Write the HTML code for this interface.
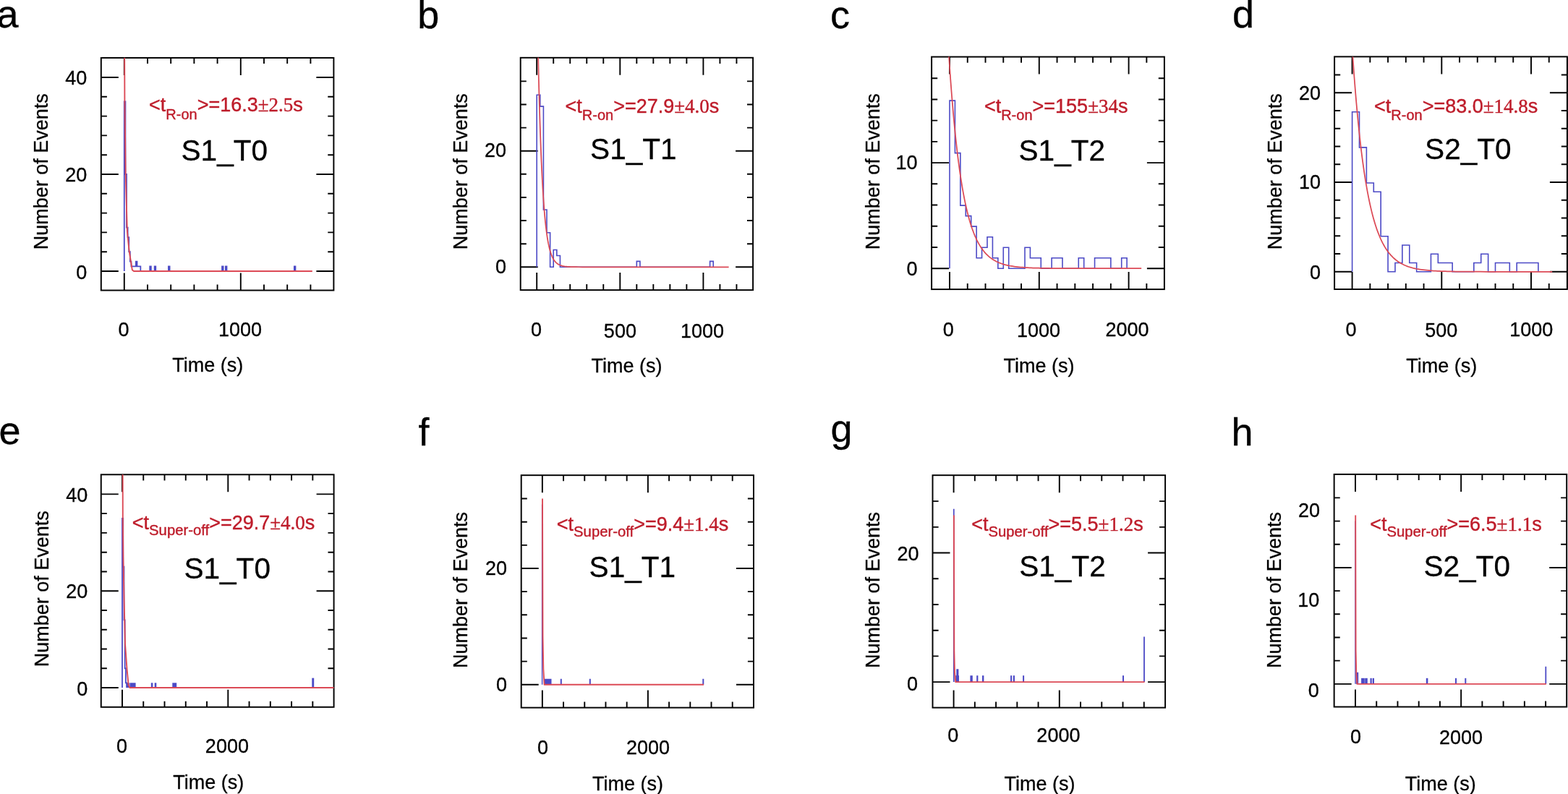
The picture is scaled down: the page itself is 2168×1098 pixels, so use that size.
<!DOCTYPE html>
<html lang="en"><head><meta charset="utf-8"><title>Dwell time histograms</title>
<style>html,body{margin:0;padding:0;background:#fff}body{width:2168px;height:1098px;overflow:hidden}svg{display:block}</style>
</head><body>
<svg width="2168" height="1098" viewBox="0 0 2168 1098" role="img" aria-label="Dwell time histograms with exponential fits, panels a to h">
<rect width="2168" height="1098" fill="#fff"/>
<g id="panel-a">
<clipPath id="clip-a"><rect x="139.8" y="80" width="321.6" height="321.5"/></clipPath>
<g stroke="#000" stroke-width="1.95" fill="none">
<rect x="139.8" y="80" width="321.6" height="321.5"/>
<path d="M171.8 401.5v-24M171.8 80v24M204 401.5v-8.1M204 80v8.1M236.2 401.5v-8.1M236.2 80v8.1M268.4 401.5v-8.1M268.4 80v8.1M300.6 401.5v-8.1M300.6 80v8.1M332.8 401.5v-24M332.8 80v24M365 401.5v-8.1M365 80v8.1M397.2 401.5v-8.1M397.2 80v8.1M429.4 401.5v-8.1M429.4 80v8.1M139.8 375h24M461.4 375h-24M139.8 348.2h8.1M461.4 348.2h-8.1M139.8 321.4h8.1M461.4 321.4h-8.1M139.8 294.6h8.1M461.4 294.6h-8.1M139.8 267.8h8.1M461.4 267.8h-8.1M139.8 241h24M461.4 241h-24M139.8 214.2h8.1M461.4 214.2h-8.1M139.8 187.4h8.1M461.4 187.4h-8.1M139.8 160.6h8.1M461.4 160.6h-8.1M139.8 133.8h8.1M461.4 133.8h-8.1M139.8 107h24M461.4 107h-24" stroke-width="1.9"/>
</g>
<g clip-path="url(#clip-a)" fill="none" stroke-linejoin="miter">
<path d="M171.8 375V140.5H173.41V241H175.02V314.7H176.63V328.1H178.24V348.2H179.85V361.6H181.46V368.3H187.9V361.6H189.51V368.3H194.34V375H207.22V368.3H208.83V375H213.66V368.3H215.27V375H232.98V368.3H234.59V375H307.04V368.3H308.65V375H311.87V368.3H313.48V375H406.86V368.3H408.47V375" stroke="#4c4ac6" stroke-width="1.8"/>
<path d="M172.2 78L172.4 140L173.1 190L173.7 241L175.6 310L175.9 320L178.6 347L181 362L182.8 373.2L185 375L431.8 375" stroke="#dc4a56" stroke-width="1.9" stroke-linejoin="round"/>
</g>
<g font-family="'Liberation Sans', sans-serif" font-size="27" fill="#000" stroke="#000" stroke-width="0.3">
<text x="171" y="464.6" text-anchor="middle">0</text>
<text x="332" y="464.6" text-anchor="middle">1000</text>
<text x="120.3" y="117.2" text-anchor="end">40</text>
<text x="120.3" y="251" text-anchor="end">20</text>
<text x="120.3" y="385.6" text-anchor="end">0</text>
<text x="287.3" y="513.8" text-anchor="middle">Time (s)</text>
<text transform="translate(66 237.3) rotate(-90)" text-anchor="middle">Number of Events</text>
</g>
<text x="-4.6" y="38.1" font-family="'Liberation Sans', sans-serif" font-size="54" fill="#000" stroke="#000" stroke-width="0.3">a</text>
<text x="250.5" y="221.9" font-family="'Liberation Sans', sans-serif" font-size="40.6" fill="#000" stroke="#000" stroke-width="0.3">S1_T0</text>
<text x="206" y="154.3" font-family="'Liberation Sans', sans-serif" font-size="27" fill="#be1c2a" stroke="#be1c2a" stroke-width="0.4">&lt;t<tspan font-size="20" dy="10.6">R-on</tspan><tspan dy="-10.6">&gt;=16.3</tspan><tspan font-family="'Liberation Serif', serif">±2.5</tspan>s</text>
</g>
<g id="panel-b">
<clipPath id="clip-b"><rect x="719.7" y="79.8" width="321.4" height="321.3"/></clipPath>
<g stroke="#000" stroke-width="1.95" fill="none">
<rect x="719.7" y="79.8" width="321.4" height="321.3"/>
<path d="M742.2 401.1v-24M742.2 79.8v24M765.22 401.1v-8.1M765.22 79.8v8.1M788.24 401.1v-8.1M788.24 79.8v8.1M811.26 401.1v-8.1M811.26 79.8v8.1M834.28 401.1v-8.1M834.28 79.8v8.1M857.3 401.1v-24M857.3 79.8v24M880.32 401.1v-8.1M880.32 79.8v8.1M903.34 401.1v-8.1M903.34 79.8v8.1M926.36 401.1v-8.1M926.36 79.8v8.1M949.38 401.1v-8.1M949.38 79.8v8.1M972.4 401.1v-24M972.4 79.8v24M995.42 401.1v-8.1M995.42 79.8v8.1M1018.44 401.1v-8.1M1018.44 79.8v8.1M719.7 369.3h24M1041.1 369.3h-24M719.7 337.18h8.1M1041.1 337.18h-8.1M719.7 305.06h8.1M1041.1 305.06h-8.1M719.7 272.94h8.1M1041.1 272.94h-8.1M719.7 240.82h8.1M1041.1 240.82h-8.1M719.7 208.7h24M1041.1 208.7h-24M719.7 176.58h8.1M1041.1 176.58h-8.1M719.7 144.46h8.1M1041.1 144.46h-8.1M719.7 112.34h8.1M1041.1 112.34h-8.1" stroke-width="1.9"/>
</g>
<g clip-path="url(#clip-b)" fill="none" stroke-linejoin="miter">
<path d="M742.2 369.3V131.29H746.8V147.16H751.41V289.96H756.01V321.7H760.62V369.3H765.22V345.5H769.82V353.43H774.43V369.3H880.32V361.37H884.92V369.3H981.61V361.37H986.21V369.3" stroke="#4c4ac6" stroke-width="1.6"/>
<path d="M742.2 -24.17L742.2 -24.12L742.2 -23.89L742.21 -23.39L742.23 -22.57L742.25 -21.37L742.27 -19.77L742.31 -17.71L742.35 -15.18L742.4 -12.15L742.46 -8.61L742.53 -4.53L742.61 0.1L742.7 5.27L742.8 10.99L742.91 17.24L743.04 24.03L743.18 31.34L743.33 39.14L743.49 47.42L743.67 56.14L743.86 65.28L744.06 74.8L744.28 84.66L744.51 94.82L744.76 105.24L745.03 115.87L745.3 126.66L745.6 137.57L745.91 148.55L746.24 159.56L746.59 170.53L746.95 181.43L747.33 192.22L747.72 202.84L748.14 213.26L748.57 223.44L749.03 233.35L749.5 242.96L749.99 252.23L750.49 261.15L751.02 269.68L751.57 277.83L752.14 285.57L752.73 292.89L753.33 299.8L753.96 306.28L754.61 312.34L755.28 317.99L755.98 323.23L756.69 328.08L757.43 332.54L758.18 336.63L758.96 340.36L759.76 343.76L760.59 346.84L761.44 349.61L762.31 352.11L763.2 354.34L764.12 356.33L765.06 358.1L766.02 359.66L767.01 361.03L768.02 362.24L769.06 363.29L770.12 364.21L771.21 365L772.32 365.68L773.45 366.27L774.62 366.77L775.8 367.2L777.02 367.56L778.26 367.86L779.52 368.12L780.81 368.34L782.13 368.51L783.47 368.66L784.84 368.79L786.24 368.89L787.67 368.97L789.12 369.04L790.6 369.09L792.11 369.13L793.64 369.17L795.21 369.2L796.8 369.22L800.07 369.25L805.19 369.28L822.13 369.3L863.57 369.3L906.29 369.3L949.72 369.3L991.34 369.3L1007.62 369.3" stroke="#dc4a56" stroke-width="1.75" stroke-linejoin="round"/>
</g>
<g font-family="'Liberation Sans', sans-serif" font-size="27" fill="#000" stroke="#000" stroke-width="0.3">
<text x="741.5" y="465" text-anchor="middle">0</text>
<text x="857.4" y="467" text-anchor="middle">500</text>
<text x="971.1" y="467" text-anchor="middle">1000</text>
<text x="700" y="217.4" text-anchor="end">20</text>
<text x="700" y="378.4" text-anchor="end">0</text>
<text x="866.6" y="514.7" text-anchor="middle">Time (s)</text>
<text transform="translate(646 237.3) rotate(-90)" text-anchor="middle">Number of Events</text>
</g>
<text x="577.2" y="38.5" font-family="'Liberation Sans', sans-serif" font-size="54" fill="#000" stroke="#000" stroke-width="0.3">b</text>
<text x="816.1" y="220.2" font-family="'Liberation Sans', sans-serif" font-size="40.6" fill="#000" stroke="#000" stroke-width="0.3">S1_T1</text>
<text x="781.5" y="156" font-family="'Liberation Sans', sans-serif" font-size="27" fill="#be1c2a" stroke="#be1c2a" stroke-width="0.4">&lt;t<tspan font-size="20" dy="10">R-on</tspan><tspan dy="-10">&gt;=27.9</tspan><tspan font-family="'Liberation Serif', serif">±4.0</tspan>s</text>
</g>
<g id="panel-c">
<clipPath id="clip-c"><rect x="1288.1" y="78.6" width="321.8" height="321.5"/></clipPath>
<g stroke="#000" stroke-width="1.95" fill="none">
<rect x="1288.1" y="78.6" width="321.8" height="321.5"/>
<path d="M1313 400.1v-24M1313 78.6v24M1337.76 400.1v-8.1M1337.76 78.6v8.1M1362.52 400.1v-8.1M1362.52 78.6v8.1M1387.28 400.1v-8.1M1387.28 78.6v8.1M1412.04 400.1v-8.1M1412.04 78.6v8.1M1436.8 400.1v-24M1436.8 78.6v24M1461.56 400.1v-8.1M1461.56 78.6v8.1M1486.32 400.1v-8.1M1486.32 78.6v8.1M1511.08 400.1v-8.1M1511.08 78.6v8.1M1535.84 400.1v-8.1M1535.84 78.6v8.1M1560.6 400.1v-24M1560.6 78.6v24M1585.36 400.1v-8.1M1585.36 78.6v8.1M1288.1 371.2h24M1609.9 371.2h-24M1288.1 341.98h8.1M1609.9 341.98h-8.1M1288.1 312.76h8.1M1609.9 312.76h-8.1M1288.1 283.54h8.1M1609.9 283.54h-8.1M1288.1 254.32h8.1M1609.9 254.32h-8.1M1288.1 225.1h24M1609.9 225.1h-24M1288.1 195.88h8.1M1609.9 195.88h-8.1M1288.1 166.66h8.1M1609.9 166.66h-8.1M1288.1 137.44h8.1M1609.9 137.44h-8.1M1288.1 108.22h8.1M1609.9 108.22h-8.1" stroke-width="1.9"/>
</g>
<g clip-path="url(#clip-c)" fill="none" stroke-linejoin="miter">
<path d="M1313 371.2V139.08H1320.43V211.61H1327.86V284.15H1335.28V298.66H1342.71V313.17H1350.14V356.69H1357.57V342.18H1365V327.68H1372.42V356.69H1379.85V371.2H1387.28V342.18H1394.71V371.2H1416.99V342.18H1424.42V356.69H1439.28V371.2H1454.13V356.69H1468.99V371.2H1491.27V356.69H1498.7V371.2H1513.56V356.69H1535.84V371.2H1550.7V356.69H1558.12V371.2" stroke="#4c4ac6" stroke-width="1.6"/>
<path d="M1311.51 69.69L1311.52 69.76L1311.53 69.89L1311.54 70.1L1311.56 70.41L1311.59 70.83L1311.62 71.36L1311.66 72.02L1311.71 72.81L1311.77 73.75L1311.84 74.84L1311.93 76.07L1312.02 77.47L1312.12 79.03L1312.23 80.75L1312.36 82.65L1312.5 84.72L1312.65 86.96L1312.81 89.38L1312.99 91.97L1313.18 94.73L1313.38 97.68L1313.6 100.79L1313.84 104.08L1314.09 107.53L1314.35 111.15L1314.63 114.93L1314.93 118.86L1315.24 122.95L1315.57 127.18L1315.92 131.55L1316.28 136.05L1316.67 140.68L1317.07 145.43L1317.48 150.28L1317.92 155.24L1318.37 160.29L1318.84 165.42L1319.34 170.63L1319.85 175.9L1320.38 181.23L1320.93 186.6L1321.5 192L1322.09 197.44L1322.7 202.88L1323.33 208.34L1323.99 213.78L1324.66 219.22L1325.36 224.63L1326.07 230L1326.81 235.33L1327.57 240.62L1328.35 245.84L1329.16 250.99L1329.99 256.07L1330.84 261.07L1331.71 265.97L1332.61 270.78L1333.53 275.49L1334.48 280.09L1335.45 284.57L1336.44 288.94L1337.46 293.19L1338.5 297.31L1339.57 301.31L1340.66 305.17L1341.77 308.9L1342.92 312.5L1344.08 315.96L1345.28 319.29L1346.49 322.49L1347.74 325.55L1349.01 328.47L1350.31 331.27L1351.63 333.93L1352.98 336.46L1354.36 338.87L1355.76 341.15L1357.2 343.31L1358.65 345.35L1360.14 347.28L1361.66 349.1L1363.2 350.8L1364.77 352.41L1366.37 353.91L1368 355.32L1369.65 356.63L1371.34 357.85L1373.05 358.99L1374.8 360.05L1376.57 361.04L1378.37 361.95L1380.2 362.79L1382.06 363.57L1383.95 364.28L1385.88 364.94L1387.83 365.55L1389.81 366.1L1391.82 366.61L1393.86 367.07L1395.94 367.5L1398.04 367.88L1400.18 368.23L1402.35 368.55L1404.55 368.84L1406.78 369.1L1409.04 369.33L1411.34 369.54L1413.66 369.73L1416.02 369.9L1418.41 370.05L1420.84 370.19L1423.29 370.31L1425.78 370.42L1428.31 370.51L1430.86 370.6L1433.45 370.68L1436.07 370.74L1438.73 370.8L1441.42 370.85L1444.14 370.9L1446.9 370.94L1449.69 370.98L1452.51 371.01L1455.37 371.03L1458.27 371.06L1461.2 371.08L1467.16 371.11L1473.26 371.13L1482.68 371.16L1499.1 371.18L1542.25 371.2L1578.18 371.2" stroke="#dc4a56" stroke-width="1.75" stroke-linejoin="round"/>
</g>
<g font-family="'Liberation Sans', sans-serif" font-size="27" fill="#000" stroke="#000" stroke-width="0.3">
<text x="1311.3" y="465" text-anchor="middle">0</text>
<text x="1436" y="466" text-anchor="middle">1000</text>
<text x="1558.5" y="465" text-anchor="middle">2000</text>
<text x="1268.6" y="234.3" text-anchor="end">10</text>
<text x="1268.6" y="381.4" text-anchor="end">0</text>
<text x="1436.5" y="514.7" text-anchor="middle">Time (s)</text>
<text transform="translate(1215.8 237.3) rotate(-90)" text-anchor="middle">Number of Events</text>
</g>
<text x="1148" y="38.5" font-family="'Liberation Sans', sans-serif" font-size="54" fill="#000" stroke="#000" stroke-width="0.3">c</text>
<text x="1408.5" y="222.3" font-family="'Liberation Sans', sans-serif" font-size="40.6" fill="#000" stroke="#000" stroke-width="0.3">S1_T2</text>
<text x="1360.9" y="156" font-family="'Liberation Sans', sans-serif" font-size="27" fill="#be1c2a" stroke="#be1c2a" stroke-width="0.4">&lt;t<tspan font-size="20" dy="10">R-on</tspan><tspan dy="-10">&gt;=155</tspan><tspan font-family="'Liberation Serif', serif">±34</tspan>s</text>
</g>
<g id="panel-d">
<clipPath id="clip-d"><rect x="1845.1" y="78.4" width="321.8" height="321.6"/></clipPath>
<g stroke="#000" stroke-width="1.95" fill="none">
<rect x="1845.1" y="78.4" width="321.8" height="321.6"/>
<path d="M1869.6 400v-24M1869.6 78.4v24M1894.34 400v-8.1M1894.34 78.4v8.1M1919.08 400v-8.1M1919.08 78.4v8.1M1943.82 400v-8.1M1943.82 78.4v8.1M1968.56 400v-8.1M1968.56 78.4v8.1M1993.3 400v-24M1993.3 78.4v24M2018.04 400v-8.1M2018.04 78.4v8.1M2042.78 400v-8.1M2042.78 78.4v8.1M2067.52 400v-8.1M2067.52 78.4v8.1M2092.26 400v-8.1M2092.26 78.4v8.1M2117 400v-24M2117 78.4v24M2141.74 400v-8.1M2141.74 78.4v8.1M1845.1 375.8h24M2166.9 375.8h-24M1845.1 351.05h8.1M2166.9 351.05h-8.1M1845.1 326.29h8.1M2166.9 326.29h-8.1M1845.1 301.54h8.1M2166.9 301.54h-8.1M1845.1 276.78h8.1M2166.9 276.78h-8.1M1845.1 252.03h24M2166.9 252.03h-24M1845.1 227.28h8.1M2166.9 227.28h-8.1M1845.1 202.52h8.1M2166.9 202.52h-8.1M1845.1 177.77h8.1M2166.9 177.77h-8.1M1845.1 153.01h8.1M2166.9 153.01h-8.1M1845.1 128.26h24M2166.9 128.26h-24M1845.1 103.51h8.1M2166.9 103.51h-8.1" stroke-width="1.9"/>
</g>
<g clip-path="url(#clip-d)" fill="none" stroke-linejoin="miter">
<path d="M1869.6 375.8V154.8H1879.5V203.91H1889.39V253.02H1899.29V265.3H1909.18V326.69H1919.08V375.8H1928.98V363.52H1938.87V338.97H1948.77V363.52H1958.66V375.8H1978.46V351.24H1988.35V363.52H2008.14V375.8H2037.83V363.52H2047.73V351.24H2057.62V375.8H2067.52V363.52H2087.31V375.8H2097.21V363.52H2126.9V375.8" stroke="#4c4ac6" stroke-width="1.6"/>
<path d="M1868.61 51.1L1868.62 51.17L1868.62 51.31L1868.64 51.53L1868.66 51.85L1868.69 52.29L1868.72 52.85L1868.77 53.54L1868.82 54.38L1868.88 55.36L1868.95 56.49L1869.04 57.79L1869.13 59.25L1869.24 60.89L1869.36 62.7L1869.49 64.69L1869.63 66.85L1869.79 69.21L1869.96 71.74L1870.14 74.46L1870.34 77.37L1870.56 80.46L1870.79 83.73L1871.03 87.18L1871.29 90.81L1871.57 94.62L1871.86 98.59L1872.17 102.73L1872.49 107.03L1872.84 111.49L1873.2 116.1L1873.58 120.84L1873.97 125.73L1874.39 130.74L1874.82 135.87L1875.28 141.1L1875.75 146.44L1876.24 151.88L1876.75 157.39L1877.28 162.98L1877.84 168.62L1878.41 174.32L1879 180.07L1879.62 185.84L1880.25 191.64L1880.91 197.44L1881.59 203.25L1882.29 209.04L1883.02 214.82L1883.76 220.57L1884.53 226.27L1885.33 231.93L1886.14 237.53L1886.98 243.06L1887.84 248.52L1888.73 253.9L1889.64 259.18L1890.57 264.37L1891.53 269.45L1892.51 274.43L1893.52 279.29L1894.56 284.02L1895.62 288.64L1896.7 293.12L1897.81 297.47L1898.95 301.69L1900.11 305.77L1901.3 309.7L1902.51 313.5L1903.75 317.16L1905.02 320.67L1906.32 324.04L1907.64 327.27L1908.99 330.36L1910.37 333.31L1911.77 336.12L1913.21 338.8L1914.67 341.34L1916.16 343.75L1917.68 346.04L1919.23 348.2L1920.81 350.24L1922.41 352.16L1924.05 353.97L1925.71 355.67L1927.41 357.27L1929.13 358.76L1930.88 360.15L1932.67 361.46L1934.48 362.67L1936.33 363.8L1938.2 364.84L1940.11 365.82L1942.05 366.72L1944.02 367.55L1946.02 368.31L1948.05 369.02L1950.11 369.67L1952.21 370.26L1954.33 370.81L1956.49 371.3L1958.68 371.76L1960.91 372.17L1963.16 372.55L1965.45 372.89L1967.78 373.2L1970.13 373.49L1972.52 373.74L1974.94 373.97L1977.4 374.18L1979.89 374.36L1982.41 374.53L1984.97 374.68L1987.56 374.81L1990.18 374.93L1992.84 375.03L1995.54 375.13L1998.27 375.21L2001.03 375.29L2003.83 375.35L2006.67 375.41L2009.54 375.46L2012.44 375.51L2015.38 375.54L2018.36 375.58L2021.37 375.61L2024.42 375.64L2027.51 375.66L2033.79 375.7L2040.21 375.72L2046.79 375.74L2056.93 375.77L2078.23 375.79L2120.9 375.8L2146.19 375.8" stroke="#dc4a56" stroke-width="1.75" stroke-linejoin="round"/>
</g>
<g font-family="'Liberation Sans', sans-serif" font-size="27" fill="#000" stroke="#000" stroke-width="0.3">
<text x="1868.1" y="465" text-anchor="middle">0</text>
<text x="1992.8" y="466" text-anchor="middle">500</text>
<text x="2117.3" y="465" text-anchor="middle">1000</text>
<text x="1826" y="137.5" text-anchor="end">20</text>
<text x="1826" y="261.2" text-anchor="end">10</text>
<text x="1826" y="386.3" text-anchor="end">0</text>
<text x="1993.2" y="514.7" text-anchor="middle">Time (s)</text>
<text transform="translate(1771.8 237.3) rotate(-90)" text-anchor="middle">Number of Events</text>
</g>
<text x="1703.9" y="38.2" font-family="'Liberation Sans', sans-serif" font-size="54" fill="#000" stroke="#000" stroke-width="0.3">d</text>
<text x="1970.1" y="220.2" font-family="'Liberation Sans', sans-serif" font-size="40.6" fill="#000" stroke="#000" stroke-width="0.3">S2_T0</text>
<text x="1900" y="156" font-family="'Liberation Sans', sans-serif" font-size="27" fill="#be1c2a" stroke="#be1c2a" stroke-width="0.4">&lt;t<tspan font-size="20" dy="10">R-on</tspan><tspan dy="-10">&gt;=83.0</tspan><tspan font-family="'Liberation Serif', serif">±14.8</tspan>s</text>
</g>
<g id="panel-e">
<clipPath id="clip-e"><rect x="139.75" y="656.3" width="321.85" height="321.5"/></clipPath>
<g stroke="#000" stroke-width="1.95" fill="none">
<rect x="139.75" y="656.3" width="321.85" height="321.5"/>
<path d="M169 977.8v-24M169 656.3v24M198.26 977.8v-8.1M198.26 656.3v8.1M227.52 977.8v-8.1M227.52 656.3v8.1M256.78 977.8v-8.1M256.78 656.3v8.1M286.04 977.8v-8.1M286.04 656.3v8.1M315.3 977.8v-24M315.3 656.3v24M344.56 977.8v-8.1M344.56 656.3v8.1M373.82 977.8v-8.1M373.82 656.3v8.1M403.08 977.8v-8.1M403.08 656.3v8.1M432.34 977.8v-8.1M432.34 656.3v8.1M139.75 951h24M461.6 951h-24M139.75 924.24h8.1M461.6 924.24h-8.1M139.75 897.48h8.1M461.6 897.48h-8.1M139.75 870.72h8.1M461.6 870.72h-8.1M139.75 843.96h8.1M461.6 843.96h-8.1M139.75 817.2h24M461.6 817.2h-24M139.75 790.44h8.1M461.6 790.44h-8.1M139.75 763.68h8.1M461.6 763.68h-8.1M139.75 736.92h8.1M461.6 736.92h-8.1M139.75 710.16h8.1M461.6 710.16h-8.1M139.75 683.4h24M461.6 683.4h-24" stroke-width="1.9"/>
</g>
<g clip-path="url(#clip-e)" fill="none" stroke-linejoin="miter">
<path d="M169 951V716.85H170.22V783.75H171.44V857.34H172.66V924.24H173.89V944.31H175.11V951" stroke="#4c4ac6" stroke-width="1.8"/>
<rect x="175.6" y="944.31" width="3.2" height="6.69" fill="#4c4ac6"/>
<rect x="179.4" y="944.31" width="8.2" height="6.69" fill="#4c4ac6"/>
<rect x="208.8" y="944.31" width="2.6" height="6.69" fill="#4c4ac6"/>
<rect x="213.7" y="944.31" width="2.6" height="6.69" fill="#4c4ac6"/>
<rect x="238.3" y="944.31" width="5.9" height="6.69" fill="#4c4ac6"/>
<rect x="431.3" y="937.62" width="2.9" height="13.38" fill="#4c4ac6"/>
<path d="M169.7 655L169.8 715L170.4 770L171.6 830L173 890L175.5 925L177.6 947L179.5 951L463 951" stroke="#dc4a56" stroke-width="1.9" stroke-linejoin="round"/>
</g>
<g font-family="'Liberation Sans', sans-serif" font-size="27" fill="#000" stroke="#000" stroke-width="0.3">
<text x="168.5" y="1041" text-anchor="middle">0</text>
<text x="313.9" y="1041.3" text-anchor="middle">2000</text>
<text x="121.3" y="693.8" text-anchor="end">40</text>
<text x="121.3" y="827.3" text-anchor="end">20</text>
<text x="121.3" y="961.9" text-anchor="end">0</text>
<text x="288.2" y="1090.5" text-anchor="middle">Time (s)</text>
<text transform="translate(67.2 814.2) rotate(-90)" text-anchor="middle">Number of Events</text>
</g>
<text x="-1.5" y="614" font-family="'Liberation Sans', sans-serif" font-size="54" fill="#000" stroke="#000" stroke-width="0.3">e</text>
<text x="254.4" y="800" font-family="'Liberation Sans', sans-serif" font-size="40.6" fill="#000" stroke="#000" stroke-width="0.3">S1_T0</text>
<text x="182.8" y="731.8" font-family="'Liberation Sans', sans-serif" font-size="27" fill="#be1c2a" stroke="#be1c2a" stroke-width="0.4">&lt;t<tspan font-size="20.3" dy="8.5">Super-off</tspan><tspan dy="-8.5">&gt;=29.7</tspan><tspan font-family="'Liberation Serif', serif">±4.0</tspan>s</text>
</g>
<g id="panel-f">
<clipPath id="clip-f"><rect x="720.7" y="657.2" width="321.3" height="321.4"/></clipPath>
<g stroke="#000" stroke-width="1.95" fill="none">
<rect x="720.7" y="657.2" width="321.3" height="321.4"/>
<path d="M749.85 978.6v-24M749.85 657.2v24M779.06 978.6v-8.1M779.06 657.2v8.1M808.27 978.6v-8.1M808.27 657.2v8.1M837.47 978.6v-8.1M837.47 657.2v8.1M866.68 978.6v-8.1M866.68 657.2v8.1M895.89 978.6v-24M895.89 657.2v24M925.1 978.6v-8.1M925.1 657.2v8.1M954.31 978.6v-8.1M954.31 657.2v8.1M983.51 978.6v-8.1M983.51 657.2v8.1M1012.72 978.6v-8.1M1012.72 657.2v8.1M720.7 946.8h24M1042 946.8h-24M720.7 914.64h8.1M1042 914.64h-8.1M720.7 882.48h8.1M1042 882.48h-8.1M720.7 850.32h8.1M1042 850.32h-8.1M720.7 818.16h8.1M1042 818.16h-8.1M720.7 786h24M1042 786h-24M720.7 753.84h8.1M1042 753.84h-8.1M720.7 721.68h8.1M1042 721.68h-8.1M720.7 689.52h8.1M1042 689.52h-8.1" stroke-width="1.9"/>
</g>
<g clip-path="url(#clip-f)" fill="none" stroke-linejoin="miter">
<rect x="752.8" y="938.76" width="9.7" height="8.04" fill="#4c4ac6"/>
<rect x="774.8" y="938.76" width="2" height="8.04" fill="#4c4ac6"/>
<rect x="814.8" y="938.76" width="2" height="8.04" fill="#4c4ac6"/>
<rect x="971.3" y="938.76" width="2" height="8.04" fill="#4c4ac6"/>
<path d="M749.6 946.8V697.56" stroke="#4c4ac6" stroke-width="1.4"/>
<path d="M750 689.4L750.5 880L751.3 925L752.6 946.8L973 946.8" stroke="#dc4a56" stroke-width="1.9" stroke-linejoin="round"/>
</g>
<g font-family="'Liberation Sans', sans-serif" font-size="27" fill="#000" stroke="#000" stroke-width="0.3">
<text x="750.5" y="1042.6" text-anchor="middle">0</text>
<text x="896" y="1043.3" text-anchor="middle">2000</text>
<text x="701" y="795.2" text-anchor="end">20</text>
<text x="701" y="956" text-anchor="end">0</text>
<text x="867.9" y="1092.8" text-anchor="middle">Time (s)</text>
<text transform="translate(646.3 816) rotate(-90)" text-anchor="middle">Number of Events</text>
</g>
<text x="578.4" y="616.1" font-family="'Liberation Sans', sans-serif" font-size="54" fill="#000" stroke="#000" stroke-width="0.3">f</text>
<text x="814.6" y="797.7" font-family="'Liberation Sans', sans-serif" font-size="40.6" fill="#000" stroke="#000" stroke-width="0.3">S1_T1</text>
<text x="769.8" y="733.6" font-family="'Liberation Sans', sans-serif" font-size="27" fill="#be1c2a" stroke="#be1c2a" stroke-width="0.4">&lt;t<tspan font-size="20.3" dy="8.7">Super-off</tspan><tspan dy="-8.7">&gt;=9.4</tspan><tspan font-family="'Liberation Serif', serif">±1.4</tspan>s</text>
</g>
<g id="panel-g">
<clipPath id="clip-g"><rect x="1289.5" y="657.2" width="321.6" height="321.4"/></clipPath>
<g stroke="#000" stroke-width="1.95" fill="none">
<rect x="1289.5" y="657.2" width="321.6" height="321.4"/>
<path d="M1318.6 978.6v-24M1318.6 657.2v24M1347.84 978.6v-8.1M1347.84 657.2v8.1M1377.08 978.6v-8.1M1377.08 657.2v8.1M1406.32 978.6v-8.1M1406.32 657.2v8.1M1435.56 978.6v-8.1M1435.56 657.2v8.1M1464.8 978.6v-24M1464.8 657.2v24M1494.04 978.6v-8.1M1494.04 657.2v8.1M1523.28 978.6v-8.1M1523.28 657.2v8.1M1552.52 978.6v-8.1M1552.52 657.2v8.1M1581.76 978.6v-8.1M1581.76 657.2v8.1M1289.5 943.1h24M1611.1 943.1h-24M1289.5 907.39h8.1M1611.1 907.39h-8.1M1289.5 871.68h8.1M1611.1 871.68h-8.1M1289.5 835.96h8.1M1611.1 835.96h-8.1M1289.5 800.25h8.1M1611.1 800.25h-8.1M1289.5 764.54h24M1611.1 764.54h-24M1289.5 728.83h8.1M1611.1 728.83h-8.1M1289.5 693.12h8.1M1611.1 693.12h-8.1" stroke-width="1.9"/>
</g>
<g clip-path="url(#clip-g)" fill="none" stroke-linejoin="miter">
<rect x="1321.3" y="934.17" width="4.7" height="8.93" fill="#4c4ac6"/>
<rect x="1322.3" y="925.24" width="3.1" height="17.86" fill="#4c4ac6"/>
<rect x="1341.4" y="934.17" width="3.4" height="8.93" fill="#4c4ac6"/>
<rect x="1350.2" y="934.17" width="2.2" height="8.93" fill="#4c4ac6"/>
<rect x="1358" y="934.17" width="2.4" height="8.93" fill="#4c4ac6"/>
<rect x="1397.1" y="934.17" width="2.1" height="8.93" fill="#4c4ac6"/>
<rect x="1400.8" y="934.17" width="2.2" height="8.93" fill="#4c4ac6"/>
<rect x="1414.1" y="934.17" width="2" height="8.93" fill="#4c4ac6"/>
<rect x="1552" y="934.17" width="2" height="8.93" fill="#4c4ac6"/>
<path d="M1318.8 943.1V703.83" stroke="#4c4ac6" stroke-width="1.7"/>
<path d="M1582 943.1V880.6" stroke="#4c4ac6" stroke-width="1.8"/>
<path d="M1318.9 712.4L1319.3 900L1320 930L1321.3 943.1L1582.6 943.1" stroke="#dc4a56" stroke-width="1.9" stroke-linejoin="round"/>
</g>
<g font-family="'Liberation Sans', sans-serif" font-size="27" fill="#000" stroke="#000" stroke-width="0.3">
<text x="1317.8" y="1025.5" text-anchor="middle">0</text>
<text x="1463.4" y="1026" text-anchor="middle">2000</text>
<text x="1270.6" y="774.8" text-anchor="end">20</text>
<text x="1269" y="954.9" text-anchor="end">0</text>
<text x="1437.5" y="1092.8" text-anchor="middle">Time (s)</text>
<text transform="translate(1215.8 816) rotate(-90)" text-anchor="middle">Number of Events</text>
</g>
<text x="1148.4" y="611.3" font-family="'Liberation Sans', sans-serif" font-size="54" fill="#000" stroke="#000" stroke-width="0.3">g</text>
<text x="1409.2" y="797.4" font-family="'Liberation Sans', sans-serif" font-size="40.6" fill="#000" stroke="#000" stroke-width="0.3">S1_T2</text>
<text x="1343.2" y="733.6" font-family="'Liberation Sans', sans-serif" font-size="27" fill="#be1c2a" stroke="#be1c2a" stroke-width="0.4">&lt;t<tspan font-size="20.3" dy="8.7">Super-off</tspan><tspan dy="-8.7">&gt;=5.5</tspan><tspan font-family="'Liberation Serif', serif">±1.2</tspan>s</text>
</g>
<g id="panel-h">
<clipPath id="clip-h"><rect x="1844.65" y="655.9" width="321.55" height="321.6"/></clipPath>
<g stroke="#000" stroke-width="1.95" fill="none">
<rect x="1844.65" y="655.9" width="321.55" height="321.6"/>
<path d="M1874 977.5v-24M1874 655.9v24M1903.23 977.5v-8.1M1903.23 655.9v8.1M1932.46 977.5v-8.1M1932.46 655.9v8.1M1961.7 977.5v-8.1M1961.7 655.9v8.1M1990.93 977.5v-8.1M1990.93 655.9v8.1M2020.16 977.5v-24M2020.16 655.9v24M2049.39 977.5v-8.1M2049.39 655.9v8.1M2078.62 977.5v-8.1M2078.62 655.9v8.1M2107.86 977.5v-8.1M2107.86 655.9v8.1M2137.09 977.5v-8.1M2137.09 655.9v8.1M1844.65 945.85h24M2166.2 945.85h-24M1844.65 913.67h8.1M2166.2 913.67h-8.1M1844.65 881.49h8.1M2166.2 881.49h-8.1M1844.65 849.31h8.1M2166.2 849.31h-8.1M1844.65 817.13h8.1M2166.2 817.13h-8.1M1844.65 784.95h24M2166.2 784.95h-24M1844.65 752.77h8.1M2166.2 752.77h-8.1M1844.65 720.59h8.1M2166.2 720.59h-8.1M1844.65 688.41h8.1M2166.2 688.41h-8.1" stroke-width="1.9"/>
</g>
<g clip-path="url(#clip-h)" fill="none" stroke-linejoin="miter">
<rect x="1874.8" y="929.76" width="3.4" height="16.09" fill="#4c4ac6"/>
<rect x="1882.1" y="937.81" width="4.7" height="8.04" fill="#4c4ac6"/>
<rect x="1887.2" y="937.81" width="3.6" height="8.04" fill="#4c4ac6"/>
<rect x="1894.5" y="937.81" width="2.2" height="8.04" fill="#4c4ac6"/>
<rect x="1897.7" y="937.81" width="2.3" height="8.04" fill="#4c4ac6"/>
<rect x="1971.8" y="937.81" width="2.6" height="8.04" fill="#4c4ac6"/>
<rect x="2012" y="937.81" width="2" height="8.04" fill="#4c4ac6"/>
<rect x="2025.3" y="937.81" width="2" height="8.04" fill="#4c4ac6"/>
<path d="M1874 945.85V720.59" stroke="#4c4ac6" stroke-width="1.4"/>
<path d="M2137.3 945.85V921.72" stroke="#4c4ac6" stroke-width="1.8"/>
<path d="M1874.2 712.4L1874.6 900L1875.3 932L1876.5 945.85L2137.9 945.85" stroke="#dc4a56" stroke-width="1.9" stroke-linejoin="round"/>
</g>
<g font-family="'Liberation Sans', sans-serif" font-size="27" fill="#000" stroke="#000" stroke-width="0.3">
<text x="1874.6" y="1028" text-anchor="middle">0</text>
<text x="2020.1" y="1028.8" text-anchor="middle">2000</text>
<text x="1825" y="714.5" text-anchor="end">20</text>
<text x="1824.2" y="839" text-anchor="end">10</text>
<text x="1823.7" y="964.2" text-anchor="end">0</text>
<text x="1991.7" y="1092.8" text-anchor="middle">Time (s)</text>
<text transform="translate(1771 816) rotate(-90)" text-anchor="middle">Number of Events</text>
</g>
<text x="1702.4" y="616.1" font-family="'Liberation Sans', sans-serif" font-size="54" fill="#000" stroke="#000" stroke-width="0.3">h</text>
<text x="1968.4" y="797.4" font-family="'Liberation Sans', sans-serif" font-size="40.6" fill="#000" stroke="#000" stroke-width="0.3">S2_T0</text>
<text x="1894.2" y="733.6" font-family="'Liberation Sans', sans-serif" font-size="27" fill="#be1c2a" stroke="#be1c2a" stroke-width="0.4">&lt;t<tspan font-size="20.3" dy="8.7">Super-off</tspan><tspan dy="-8.7">&gt;=6.5</tspan><tspan font-family="'Liberation Serif', serif">±1.1</tspan>s</text>
</g>
</svg>
</body></html>
